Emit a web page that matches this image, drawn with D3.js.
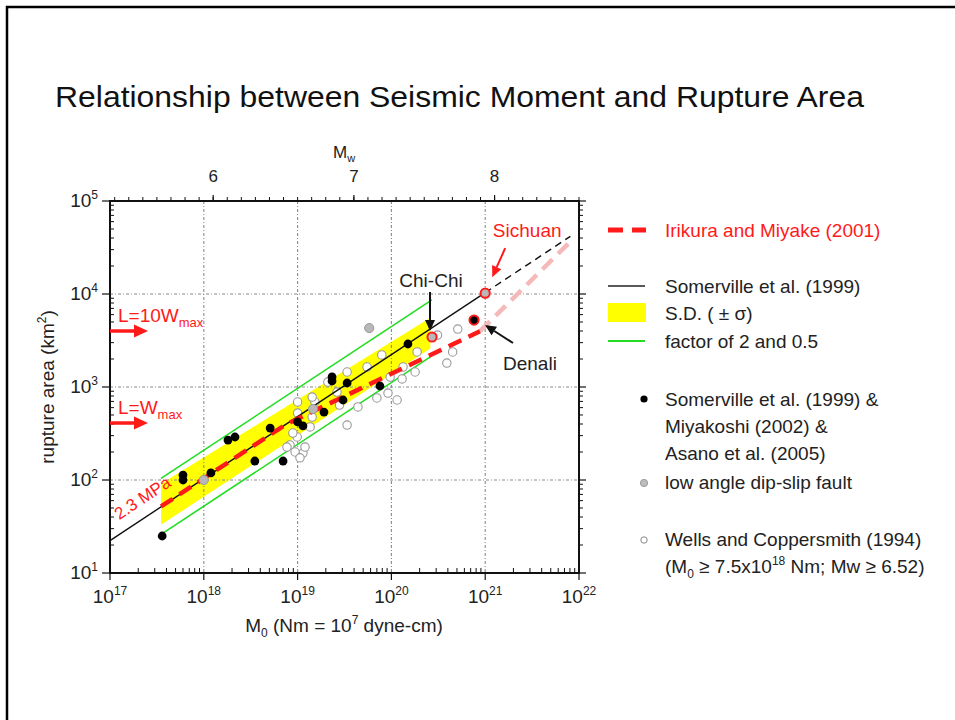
<!DOCTYPE html>
<html><head><meta charset="utf-8">
<script src="https://cdn.jsdelivr.net/npm/d3@7"></script>
<style>
html,body{margin:0;padding:0;background:#fff;}
svg{display:block;font-family:"Liberation Sans",Arial,Helvetica,sans-serif;}
</style></head><body>
<svg id="chart" width="955" height="720"></svg>
<script>
// ---------- axis ticks ----------
const momentExponents = [17, 18, 19, 20, 21, 22];      // M0 decades (Nm)
const areaExponents   = [1, 2, 3, 4, 5];               // rupture area decades (km^2)
const mwLabels        = [6, 7, 8];                     // moment magnitude labels

// ---------- scaling relations (end points, M0 in Nm, area in km^2) ----------
const somervilleLine   = [[1e17, 22.3], [1e21, 10350]];
const somervilleExtend = [[1e21, 10350], [8.1e21, 41700]];
const irikuraLine      = [[3.5e17, 51.9], [7.5e18, 396], [8.8e20, 3980]];
const irikuraExtend    = [[8.8e20, 3980], [8.4e21, 38000]];
const sdUpper          = [[3.5e17, 91], [2.6e20, 5560]];
const sdLower          = [[3.5e17, 33], [2.6e20, 2600]];
const factorTwo        = [[3.5e17, 104], [2.7e20, 8630]];
const factorHalf       = [[3.5e17, 26], [2.7e20, 2160]];

// ---------- events ----------
// Somerville et al. (1999) & Miyakoshi (2002) & Asano et al. (2005)
const somervilleEvents = [
  [3.6e17, 25], [6.0e17, 113], [6.0e17, 100], [1.19e18, 119], [1.81e18, 269],
  [2.15e18, 290], [3.5e18, 160], [5.1e18, 362], [7.0e18, 160], [1.0e19, 421],
  [1.14e19, 381], [1.91e19, 538], [2.33e19, 1282], [2.33e19, 1160], [3.05e19, 725],
  [3.37e19, 1104], [7.55e19, 1025], [1.5e20, 2900]
];
// low angle dip-slip fault
const dipSlipEvents = [[1.0e18, 100], [1.46e19, 580], [5.8e19, 4300]];
// Wells and Coppersmith (1994)
const wellsEvents = [
  [1.14e19, 195], [1.2e19, 226], [1.53e19, 690], [2.1e19, 1130], [2.63e19, 883],
  [3.37e19, 1450], [3.37e19, 390], [4.4e19, 610], [5.5e19, 1640], [7.0e19, 762],
  [7.9e19, 2210], [9.2e19, 861], [1.15e20, 725], [9.7e19, 1280], [1.33e20, 1640],
  [1.79e20, 1450], [1.88e20, 2380], [3.9e20, 1810], [4.5e20, 2380], [5.1e20, 4200],
  [3.1e20, 3620], [1.3e20, 1220], [8.3e18, 238], [9.4e18, 200], [9.9e18, 290],
  [1.0e19, 690], [1.0e19, 525], [1.43e19, 780], [1.36e19, 372], [8.9e18, 320],
  [7.7e18, 226], [1.06e19, 173], [2.8e19, 640], [1.43e19, 475]
];
// labelled earthquakes
const namedEvents = [
  {name: "Sichuan", m0: 1.0e21, area: 10200, fill: "#b8b8b8"},
  {name: "Chi-Chi", m0: 2.71e20, area: 3450, fill: "#b8b8b8"},
  {name: "Denali",  m0: 7.6e20, area: 5250, fill: "#000"}
];
// fault-width limits marked on the area axis
const widthLimits = [
  {label: "L=10W", area: 4000},
  {label: "L=W",   area: 410}
];

// ---------- legend entries ----------
const lineLegend = [
  {text: "Irikura and Miyake (2001)", kind: "redDash", y: 230, color: "#ff1a1a"},
  {text: "Somerville et al. (1999)", kind: "black", y: 286, color: "#222"},
  {text: "S.D. ( \u00B1 \u03C3)", kind: "band", y: 313, color: "#222"},
  {text: "factor of 2 and 0.5", kind: "green", y: 341, color: "#222"}
];

// ---------- layout ----------
const svg = d3.select("#chart");
const plot = {left: 110, right: 579, top: 201, bottom: 573};
const x = d3.scaleLog().domain([1e17, 1e22]).range([plot.left, plot.right]);
const y = d3.scaleLog().domain([1e1, 1e5]).range([plot.bottom, plot.top]);
const mwOf = m0 => (Math.log10(m0) - 9.1) / 1.5;
const mw = d3.scaleLinear().domain(x.domain().map(mwOf)).range(x.range());

const line = d3.line().x(d => x(d[0])).y(d => y(d[1]));
const RED = "#ff1a1a";

// slide frame
svg.append("path").attr("d", "M7,720V7H955").attr("fill", "none")
  .attr("stroke", "#000").attr("stroke-width", 2.5);

// title
svg.append("text").attr("x", 55).attr("y", 107)
  .attr("font-size", 30).attr("fill", "#111")
  .attr("textLength", 809).attr("lengthAdjust", "spacingAndGlyphs")
  .text("Relationship between Seismic Moment and Rupture Area");

const g = svg.append("g");

// S.D. band
g.append("path")
  .attr("d", line(sdUpper.concat(sdLower.slice().reverse())) + "Z")
  .attr("fill", "#ffff00");

// grid lines at decades
const gridX = momentExponents.slice(1, -1).map(e => Math.pow(10, e));
const gridY = areaExponents.slice(1, -1).map(e => Math.pow(10, e));
g.selectAll(".gx").data(gridX).join("line")
  .attr("x1", d => x(d)).attr("x2", d => x(d))
  .attr("y1", plot.top).attr("y2", plot.bottom)
  .attr("stroke", "#8a8a8a").attr("stroke-width", 1.1).attr("stroke-dasharray", "3,2,1,2");
g.selectAll(".gy").data(gridY).join("line")
  .attr("y1", d => y(d)).attr("y2", d => y(d))
  .attr("x1", plot.left).attr("x2", plot.right)
  .attr("stroke", "#8a8a8a").attr("stroke-width", 1.1).attr("stroke-dasharray", "3,2,1,2");

// factor of 2 and 0.5
[factorTwo, factorHalf].forEach(d => g.append("path").attr("d", line(d))
  .attr("fill", "none").attr("stroke", "#22dd22").attr("stroke-width", 1.6));

// Wells and Coppersmith events
g.selectAll(".wc").data(wellsEvents).join("circle")
  .attr("cx", d => x(d[0])).attr("cy", d => y(d[1])).attr("r", 4.2)
  .attr("fill", "#fff").attr("stroke", "#999").attr("stroke-width", 1.1);

// Somerville relation
g.append("path").attr("d", line(somervilleLine)).attr("fill", "none")
  .attr("stroke", "#111").attr("stroke-width", 1.4);
g.append("path").attr("d", line(somervilleExtend)).attr("fill", "none")
  .attr("stroke", "#111").attr("stroke-width", 1.4).attr("stroke-dasharray", "7,5");

// Irikura and Miyake relation
g.append("path").attr("d", line(irikuraExtend)).attr("fill", "none")
  .attr("stroke", "#f5b9b9").attr("stroke-width", 4.5).attr("stroke-dasharray", "14,8");
g.append("path").attr("d", line(irikuraLine)).attr("fill", "none")
  .attr("stroke", RED).attr("stroke-width", 4.5).attr("stroke-dasharray", "14,8");

// events
g.selectAll(".dip").data(dipSlipEvents).join("circle")
  .attr("cx", d => x(d[0])).attr("cy", d => y(d[1])).attr("r", 4.6)
  .attr("fill", "#b8b8b8").attr("stroke", "#999").attr("stroke-width", 1);
g.selectAll(".som").data(somervilleEvents).join("circle")
  .attr("cx", d => x(d[0])).attr("cy", d => y(d[1])).attr("r", 4.4)
  .attr("fill", "#000");
g.selectAll(".named").data(namedEvents).join("circle")
  .attr("cx", d => x(d.m0)).attr("cy", d => y(d.area)).attr("r", 4.6)
  .attr("fill", d => d.fill).attr("stroke", RED).attr("stroke-width", 2);

// ---------- axes ----------
const supLabel = sel => {
  sel.each(function (e) {
    const t = d3.select(this);
    t.append("tspan").text("10");
    t.append("tspan").attr("font-size", 12).attr("dy", -8).text(e);
  });
};
const axisG = svg.append("g").attr("fill", "none").attr("stroke", "#111");
// frame
axisG.append("rect").attr("x", plot.left).attr("y", plot.top)
  .attr("width", plot.right - plot.left).attr("height", plot.bottom - plot.top)
  .attr("stroke-width", 2);

// minor log ticks
const minorValues = (lo, hi) => {
  const out = [];
  for (let e = lo; e < hi; e++) for (let k = 2; k <= 9; k++) out.push(k * Math.pow(10, e));
  return out;
};
const xMinor = minorValues(17, 22), yMinor = minorValues(1, 5);
axisG.selectAll(".xm").data(xMinor).join("line")
  .attr("x1", d => x(d)).attr("x2", d => x(d))
  .attr("y1", plot.bottom).attr("y2", plot.bottom - 5).attr("stroke-width", 1);
axisG.selectAll(".xM").data(momentExponents).join("line")
  .attr("x1", e => x(Math.pow(10, e))).attr("x2", e => x(Math.pow(10, e)))
  .attr("y1", plot.bottom).attr("y2", plot.bottom + 7).attr("stroke-width", 1.2);
axisG.selectAll(".ym").data(yMinor).join("line")
  .attr("y1", d => y(d)).attr("y2", d => y(d))
  .attr("x1", plot.left).attr("x2", plot.left + 4).attr("stroke-width", 1);
axisG.selectAll(".yM").data(areaExponents).join("line")
  .attr("y1", e => y(Math.pow(10, e))).attr("y2", e => y(Math.pow(10, e)))
  .attr("x1", plot.left - 8).attr("x2", plot.left).attr("stroke-width", 1.2);
axisG.selectAll(".yr").data(yMinor).join("line")
  .attr("y1", d => y(d)).attr("y2", d => y(d))
  .attr("x1", plot.right).attr("x2", plot.right + 4).attr("stroke-width", 1);
axisG.selectAll(".yR").data(areaExponents).join("line")
  .attr("y1", e => y(Math.pow(10, e))).attr("y2", e => y(Math.pow(10, e)))
  .attr("x1", plot.right).attr("x2", plot.right + 7).attr("stroke-width", 1.2);

// top Mw axis
const mwMinor = d3.range(Math.ceil(mw.domain()[0] * 10), Math.floor(mw.domain()[1] * 10) + 1).map(d => d / 10);
axisG.selectAll(".mm").data(mwMinor).join("line")
  .attr("x1", d => mw(d)).attr("x2", d => mw(d))
  .attr("y1", plot.top).attr("y2", plot.top - 4).attr("stroke-width", 1);
axisG.selectAll(".mM").data(mwLabels).join("line")
  .attr("x1", d => mw(d)).attr("x2", d => mw(d))
  .attr("y1", plot.top).attr("y2", plot.top - 6).attr("stroke-width", 1.2);

const labelG = svg.append("g").attr("fill", "#222");
labelG.selectAll(".xl").data(momentExponents).join("text")
  .attr("x", e => x(Math.pow(10, e))).attr("y", plot.bottom + 30)
  .attr("text-anchor", "middle").attr("font-size", 19)
  .call(supLabel);
labelG.selectAll(".yl").data(areaExponents).join("text")
  .attr("x", plot.left - 12).attr("y", e => y(Math.pow(10, e)) + 6)
  .attr("text-anchor", "end").attr("font-size", 19)
  .call(supLabel);
labelG.selectAll(".ml").data(mwLabels).join("text")
  .attr("x", d => mw(d)).attr("y", plot.top - 19)
  .attr("text-anchor", "middle").attr("font-size", 17).text(d => d);

// axis titles
const mwTitle = labelG.append("text").attr("x", 333).attr("y", 158).attr("font-size", 17);
mwTitle.append("tspan").text("M");
mwTitle.append("tspan").attr("font-size", 11).attr("dy", 4).text("w");

const xTitle = labelG.append("text").attr("x", 344).attr("y", 632)
  .attr("text-anchor", "middle").attr("font-size", 19);
xTitle.append("tspan").text("M");
xTitle.append("tspan").attr("font-size", 12).attr("dy", 5).text("0");
xTitle.append("tspan").attr("dy", -5).text(" (Nm = 10");
xTitle.append("tspan").attr("font-size", 12).attr("dy", -8).text("7");
xTitle.append("tspan").attr("dy", 8).text(" dyne-cm)");

const yTitle = labelG.append("text")
  .attr("transform", `translate(54,${(plot.top + plot.bottom) / 2}) rotate(-90)`)
  .attr("text-anchor", "middle").attr("font-size", 19);
yTitle.append("tspan").text("rupture area (km");
yTitle.append("tspan").attr("font-size", 12).attr("dy", -8).text("2");
yTitle.append("tspan").attr("dy", 8).text(")");

// ---------- annotations ----------
function arrow(sel, x1, y1, x2, y2, color, width, headLen, headHalf) {
  const a = Math.atan2(y2 - y1, x2 - x1);
  const bx = x2 - headLen * Math.cos(a), by = y2 - headLen * Math.sin(a);
  sel.append("line").attr("x1", x1).attr("y1", y1).attr("x2", bx).attr("y2", by)
    .attr("stroke", color).attr("stroke-width", width);
  sel.append("path")
    .attr("d", `M${x2},${y2}L${bx + headHalf * Math.sin(a)},${by - headHalf * Math.cos(a)}L${bx - headHalf * Math.sin(a)},${by + headHalf * Math.cos(a)}Z`)
    .attr("fill", color);
}
const ann = svg.append("g");

widthLimits.forEach(d => {
  const yy = y(d.area);
  arrow(ann, plot.left, yy, plot.left + 38, yy, RED, 3.5, 14, 6.5);
  const t = ann.append("text").attr("x", plot.left + 8).attr("y", yy - 9)
    .attr("fill", RED).attr("font-size", 19);
  t.append("tspan").text(d.label);
  t.append("tspan").attr("font-size", 13).attr("dy", 5).text("max");
});

// stress drop label along the Somerville line
ann.append("text")
  .attr("transform", `translate(${x(2.4e17)},${y(57)}) rotate(-33.5)`)
  .attr("text-anchor", "middle").attr("font-size", 17).attr("fill", RED)
  .text("2.3 MPa");

const pos = name => {
  const e = namedEvents.find(d => d.name === name);
  return [x(e.m0), y(e.area)];
};
const [cx, cy] = pos("Chi-Chi");
arrow(ann, cx - 2, cy - 45, cx - 2, cy - 6, "#111", 2, 11, 5);
ann.append("text").attr("x", cx - 1).attr("y", cy - 50).attr("text-anchor", "middle")
  .attr("font-size", 19).attr("fill", "#222").text("Chi-Chi");

const [sx, sy] = pos("Sichuan");
arrow(ann, sx + 20, sy - 45, sx + 7, sy - 16, RED, 2, 11, 5);
ann.append("text").attr("x", sx + 42).attr("y", sy - 56).attr("text-anchor", "middle")
  .attr("font-size", 19).attr("fill", RED).text("Sichuan");

const [dx, dy] = pos("Denali");
arrow(ann, dx + 39, dy + 23, dx + 11, dy + 5, "#111", 2, 11, 5);
ann.append("text").attr("x", dx + 29).attr("y", dy + 50)
  .attr("font-size", 19).attr("fill", "#222").text("Denali");

// ---------- legend ----------
const leg = svg.append("g");
const lx0 = 608, lx1 = 645, tx = 665;
lineLegend.forEach(d => {
  if (d.kind === "redDash") {
    leg.append("line").attr("x1", lx0).attr("x2", lx1 + 1).attr("y1", d.y).attr("y2", d.y)
      .attr("stroke", RED).attr("stroke-width", 5).attr("stroke-dasharray", "15,9");
  } else if (d.kind === "black") {
    leg.append("line").attr("x1", lx0).attr("x2", lx1).attr("y1", d.y).attr("y2", d.y)
      .attr("stroke", "#222").attr("stroke-width", 1.5);
  } else if (d.kind === "band") {
    leg.append("rect").attr("x", lx0).attr("y", d.y - 10).attr("width", 38).attr("height", 19)
      .attr("fill", "#ffff00");
  } else {
    leg.append("line").attr("x1", lx0).attr("x2", lx1).attr("y1", d.y).attr("y2", d.y)
      .attr("stroke", "#22dd22").attr("stroke-width", 1.8);
  }
  leg.append("text").attr("x", tx).attr("y", d.y + 7).attr("font-size", 19)
    .attr("fill", d.color).text(d.text);
});

// marker legend
leg.append("circle").attr("cx", 644).attr("cy", 399).attr("r", 3.6).attr("fill", "#000");
["Somerville et al. (1999) &", "Miyakoshi (2002) &", "Asano et al. (2005)"].forEach((s, i) =>
  leg.append("text").attr("x", tx).attr("y", 406 + i * 27).attr("font-size", 19).attr("fill", "#222").text(s));
leg.append("circle").attr("cx", 644).attr("cy", 483).attr("r", 3.6)
  .attr("fill", "#bdbdbd").attr("stroke", "#999");
leg.append("text").attr("x", tx).attr("y", 489).attr("font-size", 19).attr("fill", "#222")
  .text("low angle dip-slip fault");
leg.append("circle").attr("cx", 644).attr("cy", 540).attr("r", 3.2)
  .attr("fill", "#fff").attr("stroke", "#888");
leg.append("text").attr("x", tx).attr("y", 546).attr("font-size", 19).attr("fill", "#222")
  .text("Wells and Coppersmith (1994)");
const wc = leg.append("text").attr("x", tx).attr("y", 573).attr("font-size", 19).attr("fill", "#222");
wc.append("tspan").text("(M");
wc.append("tspan").attr("font-size", 12).attr("dy", 5).text("0");
wc.append("tspan").attr("dy", -5).text(" \u2265 7.5x10");
wc.append("tspan").attr("font-size", 12).attr("dy", -8).text("18");
wc.append("tspan").attr("dy", 8).text(" Nm; Mw \u2265 6.52)");
</script>
</body></html>
